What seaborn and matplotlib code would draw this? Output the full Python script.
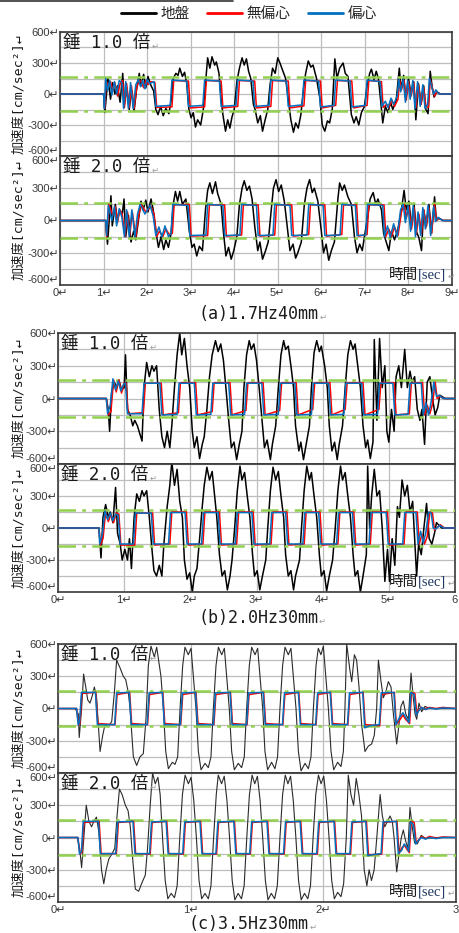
"""
Shaking-table response: ground vs. non-eccentric / eccentric weight
Three test cases (a)(b)(c), each with weight ratio 1.0 and 2.0
"""

import matplotlib
matplotlib.use("Agg")
import matplotlib.pyplot as plt
import seaborn as sns

# ---------------------------------------------------------------- data
# every series is a list of (time [sec], acceleration [cm/sec^2])

# (a) 1.7Hz 40mm, weight x1.0
a1_ground = [(0, 0), (1.00, 0), (1.03, -180), (1.10, 150), (1.16, -50), (1.21, 110), (1.26, 0), (1.32, 80),
             (1.38, -80), (1.44, 200), (1.48, -100), (1.53, 60), (1.59, -150), (1.64, 40), (1.70, -170),
             (1.76, 50), (1.82, 200), (1.86, 80), (1.92, 190), (1.97, 60), (2.02, 170), (2.08, 90), (2.15, 30),
             (2.20, -150), (2.25, -200), (2.31, -120), (2.37, -210), (2.43, -140), (2.50, -190), (2.56, -40),
             (2.60, 150), (2.66, 200), (2.71, 180), (2.75, 250), (2.81, 170), (2.86, 210), (2.91, 100),
             (2.96, -150), (3.01, -230), (3.06, -180), (3.11, -320), (3.16, -250), (3.23, -300), (3.29, -150),
             (3.34, 100), (3.39, 350), (3.44, 250), (3.49, 360), (3.55, 280), (3.59, 310), (3.65, 200),
             (3.70, -50), (3.74, -200), (3.80, -360), (3.85, -250), (3.90, -330), (3.95, -220), (4.00, -150),
             (4.06, 120), (4.12, 250), (4.18, 350), (4.23, 280), (4.28, 340), (4.33, 220), (4.38, 150),
             (4.44, -100), (4.48, -150), (4.54, -280), (4.60, -210), (4.65, -360), (4.71, -250), (4.77, -150),
             (4.82, 80), (4.88, 250), (4.94, 200), (5.00, 350), (5.05, 300), (5.11, 230), (5.18, 150),
             (5.24, -50), (5.30, -250), (5.36, -370), (5.41, -280), (5.47, -330), (5.53, -200), (5.59, 50),
             (5.64, 200), (5.70, 320), (5.76, 260), (5.81, 280), (5.89, 150), (5.97, -50), (6.02, -300),
             (6.08, -360), (6.14, -260), (6.19, -280), (6.25, -150), (6.31, 340), (6.36, 150), (6.42, 250),
             (6.50, 300), (6.55, 200), (6.61, 170), (6.69, -200), (6.75, -280), (6.80, -220), (6.86, -300),
             (6.92, -180), (6.99, -120), (7.05, 80), (7.11, 200), (7.15, 240), (7.21, 140), (7.26, 220),
             (7.31, 150), (7.37, -100), (7.41, -280), (7.47, -120), (7.53, -180), (7.59, -80), (7.64, -150),
             (7.72, -60), (7.79, 250), (7.83, 50), (7.89, 180), (7.94, -50), (8.00, 150), (8.06, 0),
             (8.12, 120), (8.17, -250), (8.23, 100), (8.29, -100), (8.35, 80), (8.40, -150), (8.45, -190),
             (8.50, 220), (8.55, 50), (8.59, -30), (8.65, 20), (8.74, 0), (9.0, 0)]
a1_red = [(0, 0), (1.00, 0), (1.03, -140), (1.06, 130), (1.10, 80), (1.16, 120), (1.21, 40), (1.26, 110),
          (1.32, -20), (1.38, 100), (1.44, 130), (1.48, -130), (1.53, 100), (1.59, -130), (1.64, 80),
          (1.70, -140), (1.76, 60), (1.82, 130), (1.86, 120), (1.92, 60), (1.97, 130), (2.02, 90), (2.08, 120),
          (2.18, 110), (2.22, -130), (2.57, -125), (2.61, 130), (2.95, 125), (2.99, -135), (3.32, -125),
          (3.36, 130), (3.70, 125), (3.74, -135), (4.08, -120), (4.12, 130), (4.47, 125), (4.51, -135),
          (4.84, -120), (4.88, 130), (5.24, 125), (5.28, -135), (5.60, -115), (5.64, 130), (5.98, 125),
          (6.02, -135), (6.33, -110), (6.37, 130), (6.70, 125), (6.74, -135), (7.05, -110), (7.09, 130),
          (7.38, 120), (7.42, -130), (7.50, -100), (7.55, -130), (7.62, -60), (7.68, -120), (7.76, -50),
          (7.80, 130), (7.84, 40), (7.90, 130), (7.95, -60), (8.00, 120), (8.06, -20), (8.12, 110),
          (8.17, -130), (8.23, 90), (8.29, -100), (8.35, 60), (8.40, -120), (8.46, -130), (8.50, 140),
          (8.55, 60), (8.60, -20), (8.65, 20), (8.72, 0), (9.0, 0)]
a1_blue = [(0, 0), (1.00, 0), (1.02, -140), (1.05, 150), (1.09, 30), (1.14, 130), (1.19, -10), (1.25, 120),
           (1.30, 0), (1.36, 130), (1.42, 110), (1.46, -140), (1.51, 120), (1.57, -140), (1.62, 110),
           (1.68, -140), (1.74, 90), (1.80, 140), (1.85, 70), (1.90, 130), (1.95, 50), (2.00, 140), (2.06, 100),
           (2.16, 120), (2.20, -120), (2.53, -110), (2.57, 135), (2.91, 125), (2.95, -120), (3.28, -110),
           (3.32, 135), (3.66, 125), (3.70, -120), (4.04, -110), (4.08, 135), (4.43, 125), (4.47, -120),
           (4.80, -110), (4.84, 135), (5.20, 125), (5.24, -120), (5.56, -105), (5.60, 135), (5.94, 125),
           (5.98, -125), (6.29, -110), (6.33, 135), (6.66, 125), (6.70, -125), (7.01, -110), (7.05, 135),
           (7.35, 120), (7.39, -120), (7.47, -70), (7.53, -130), (7.60, -40), (7.66, -100), (7.74, -20),
           (7.78, 140), (7.82, 20), (7.88, 140), (7.93, -80), (7.98, 130), (8.04, -50), (8.10, 130),
           (8.15, -140), (8.21, 120), (8.27, -120), (8.33, 90), (8.38, -140), (8.44, -100), (8.48, 150),
           (8.53, 80), (8.58, 0), (8.63, 40), (8.70, 0), (9.0, 0)]

# (a) 1.7Hz 40mm, weight x2.0
a2_ground = [(0, 0), (1.05, 0), (1.09, -220), (1.17, 230), (1.20, -50), (1.27, 150), (1.32, 0), (1.37, 100),
             (1.43, 60), (1.47, 200), (1.51, -150), (1.57, 50), (1.63, -200), (1.69, -100), (1.74, -180),
             (1.80, 0), (1.86, 180), (1.91, 100), (1.97, 190), (2.02, 80), (2.09, 200), (2.14, 100), (2.20, -100),
             (2.26, -250), (2.32, -150), (2.38, -270), (2.43, -180), (2.49, -250), (2.55, -120), (2.60, 150),
             (2.65, 270), (2.70, 180), (2.75, 270), (2.81, 150), (2.89, 200), (2.97, -100), (3.03, -250),
             (3.08, -220), (3.14, -330), (3.20, -240), (3.27, -280), (3.34, 100), (3.39, 280), (3.44, 350),
             (3.50, 250), (3.57, 360), (3.62, 250), (3.70, 150), (3.75, -100), (3.81, -330), (3.87, -250),
             (3.93, -360), (3.99, -280), (4.06, -150), (4.12, 150), (4.18, 300), (4.23, 370), (4.29, 280),
             (4.35, 320), (4.41, 200), (4.47, -50), (4.54, -280), (4.59, -200), (4.65, -360), (4.72, -280),
             (4.78, -200), (4.85, 100), (4.90, 300), (4.96, 380), (5.02, 270), (5.08, 330), (5.15, 180),
             (5.23, -100), (5.28, -280), (5.35, -220), (5.41, -350), (5.46, -300), (5.54, -200), (5.61, 150),
             (5.67, 300), (5.73, 380), (5.79, 260), (5.84, 300), (5.92, 180), (6.00, -100), (6.05, -300),
             (6.11, -220), (6.17, -370), (6.23, -280), (6.30, -200), (6.38, 200), (6.42, 350), (6.48, 280),
             (6.53, 330), (6.61, 220), (6.69, 150), (6.76, -150), (6.82, -300), (6.88, -220), (6.94, -280),
             (6.99, -150), (7.07, 50), (7.12, 200), (7.19, 260), (7.25, 150), (7.30, 200), (7.38, 100),
             (7.43, -120), (7.49, -200), (7.55, -280), (7.61, -100), (7.68, -180), (7.76, -80), (7.84, 100),
             (7.90, 280), (7.95, 100), (8.01, 180), (8.07, -50), (8.13, 150), (8.18, -100), (8.24, -160),
             (8.30, -280), (8.35, 100), (8.41, -50), (8.47, 150), (8.53, -120), (8.60, 220), (8.64, 0),
             (8.70, 20), (8.80, 0), (9.0, 0)]
a2_red = [(0, 0), (1.05, 0), (1.07, -150), (1.12, 150), (1.21, 50), (1.27, 130), (1.32, -20), (1.37, 100),
          (1.43, 60), (1.49, -150), (1.55, 80), (1.60, -150), (1.66, 80), (1.74, -150), (1.80, 30), (1.86, 150),
          (1.97, 80), (2.09, 130), (2.16, 60), (2.22, -150), (2.28, -100), (2.36, -150), (2.43, -80),
          (2.51, -130), (2.58, -120), (2.62, 145), (2.97, 150), (3.01, -145), (3.39, -140), (3.43, 145),
          (3.78, 145), (3.82, -145), (4.17, -135), (4.21, 145), (4.55, 145), (4.59, -145), (4.93, -135),
          (4.97, 145), (5.32, 145), (5.36, -145), (5.71, -130), (5.75, 145), (6.08, 145), (6.12, -145),
          (6.47, -130), (6.51, 145), (6.81, 145), (6.85, -145), (7.05, -130), (7.09, 145), (7.44, 145),
          (7.48, -150), (7.55, -80), (7.61, -150), (7.68, -60), (7.76, -140), (7.84, 80), (7.90, 150),
          (7.95, 20), (8.01, 130), (8.07, -80), (8.13, 120), (8.18, -130), (8.24, 60), (8.30, -120),
          (8.35, 100), (8.41, -60), (8.47, 120), (8.53, -120), (8.60, 150), (8.64, 0), (8.70, 20), (8.80, 0),
          (9.0, 0)]
a2_blue = [(0, 0), (1.05, 0), (1.07, -140), (1.11, 140), (1.19, 0), (1.25, 130), (1.30, -50), (1.36, 110),
           (1.42, 30), (1.48, -150), (1.53, 100), (1.59, -150), (1.65, 100), (1.72, -150), (1.78, 60),
           (1.84, 150), (1.95, 60), (2.07, 140), (2.14, 40), (2.20, -140), (2.27, -60), (2.34, -150),
           (2.41, -50), (2.49, -150), (2.55, -120), (2.59, 150), (2.94, 140), (2.98, -140), (3.35, -135),
           (3.39, 150), (3.74, 140), (3.78, -140), (4.13, -135), (4.17, 150), (4.51, 140), (4.55, -140),
           (4.89, -135), (4.93, 150), (5.28, 140), (5.32, -140), (5.67, -135), (5.71, 150), (6.04, 140),
           (6.08, -140), (6.43, -135), (6.47, 150), (6.78, 140), (6.82, -140), (7.02, -135), (7.06, 150),
           (7.41, 140), (7.45, -150), (7.52, -50), (7.58, -160), (7.66, -30), (7.74, -150), (7.82, 100),
           (7.88, 150), (7.93, -20), (7.99, 140), (8.05, -100), (8.11, 140), (8.16, -150), (8.22, 80),
           (8.28, -140), (8.33, 120), (8.39, -80), (8.45, 140), (8.51, -140), (8.58, 130), (8.62, -10),
           (8.68, 30), (8.78, 0), (9.0, 0)]

# (b) 2.0Hz 30mm, weight x1.0
b1_ground = [(0, 0), (0.73, 0), (0.76, -100), (0.78, -300), (0.81, 50), (0.85, 150), (0.89, 100), (0.92, 170),
             (0.96, 80), (1.00, 100), (1.02, 400), (1.05, -100), (1.09, -150), (1.13, -250), (1.16, -200),
             (1.20, -250), (1.27, -390), (1.30, 100), (1.34, 330), (1.38, 200), (1.42, 300), (1.45, 250),
             (1.49, 300), (1.53, -100), (1.57, -350), (1.61, -450), (1.65, -300), (1.69, -450), (1.72, -250),
             (1.76, 100), (1.80, 400), (1.84, 600), (1.87, 400), (1.91, 550), (1.95, 300), (1.99, 100),
             (2.03, -300), (2.06, -450), (2.10, -350), (2.14, -550), (2.18, -420), (2.21, -350), (2.25, -100),
             (2.29, 200), (2.33, 400), (2.38, 530), (2.42, 430), (2.46, 500), (2.50, 350), (2.53, 150),
             (2.58, -200), (2.62, -450), (2.66, -400), (2.70, -560), (2.74, -420), (2.78, -300), (2.81, 100),
             (2.85, 400), (2.89, 530), (2.92, 450), (2.96, 500), (3.00, 350), (3.04, 100), (3.09, -250),
             (3.12, -450), (3.16, -380), (3.21, -560), (3.24, -420), (3.29, -250), (3.33, 100), (3.37, 400),
             (3.41, 530), (3.44, 450), (3.48, 480), (3.52, 300), (3.56, 100), (3.59, -250), (3.64, -480),
             (3.67, -400), (3.71, -560), (3.75, -420), (3.80, -250), (3.83, 100), (3.87, 420), (3.91, 530),
             (3.95, 430), (3.98, 480), (4.03, 300), (4.07, 100), (4.10, -250), (4.14, -480), (4.18, -400),
             (4.22, -560), (4.25, -420), (4.30, -250), (4.34, 100), (4.38, 400), (4.42, 530), (4.46, 450),
             (4.49, 500), (4.53, 300), (4.57, 100), (4.61, -250), (4.65, -450), (4.68, -380), (4.72, -550),
             (4.76, -400), (4.78, 540), (4.82, -200), (4.86, 550), (4.90, 100), (4.94, 300), (4.97, -300),
             (5.00, -400), (5.04, -100), (5.08, -300), (5.11, 200), (5.15, 300), (5.19, 100), (5.24, 450),
             (5.28, 100), (5.32, 250), (5.35, 150), (5.39, 200), (5.43, -100), (5.47, -200), (5.50, -100),
             (5.54, -420), (5.58, 150), (5.62, 200), (5.66, 0), (5.70, -150), (5.74, -80), (5.77, 30),
             (5.85, 0), (6.0, 0)]
b1_red = [(0, 0), (0.73, 0), (0.76, -150), (0.80, -120), (0.84, 170), (0.88, 60), (0.92, 170), (0.96, 50),
          (1.00, 140), (1.03, 140), (1.06, -140), (1.29, -130), (1.32, 140), (1.56, 140), (1.59, -150),
          (1.82, -130), (1.85, 145), (2.08, 145), (2.11, -150), (2.33, -120), (2.36, 145), (2.60, 145),
          (2.63, -150), (2.84, -110), (2.87, 145), (3.10, 145), (3.13, -150), (3.35, -110), (3.38, 145),
          (3.60, 145), (3.63, -150), (3.85, -100), (3.88, 145), (4.11, 145), (4.14, -150), (4.34, -100),
          (4.37, 145), (4.61, 145), (4.64, -150), (4.85, -100), (4.88, 145), (5.08, 145), (5.11, -150),
          (5.31, -140), (5.34, 145), (5.51, 145), (5.54, -150), (5.58, -60), (5.62, -140), (5.66, -50),
          (5.70, 150), (5.73, 0), (5.77, 20), (5.83, 0), (6.0, 0)]
b1_blue = [(0, 0), (0.73, 0), (0.75, -140), (0.79, -60), (0.83, 180), (0.87, 80), (0.91, 160), (0.95, 70),
           (0.99, 130), (1.02, 140), (1.05, -140), (1.27, -140), (1.30, 140), (1.54, 140), (1.57, -150),
           (1.80, -145), (1.83, 140), (2.06, 140), (2.09, -150), (2.31, -145), (2.34, 140), (2.58, 140),
           (2.61, -150), (2.82, -145), (2.85, 140), (3.08, 140), (3.11, -150), (3.33, -145), (3.36, 140),
           (3.58, 140), (3.61, -150), (3.83, -145), (3.86, 140), (4.09, 140), (4.12, -150), (4.32, -145),
           (4.35, 140), (4.59, 140), (4.62, -150), (4.83, -145), (4.86, 140), (5.06, 140), (5.09, -150),
           (5.29, -145), (5.32, 140), (5.49, 140), (5.52, -150), (5.56, -40), (5.60, -150), (5.64, -30),
           (5.68, 150), (5.72, 20), (5.76, 30), (5.82, 0), (6.0, 0)]

# (b) 2.0Hz 30mm, weight x2.0
b2_ground = [(0, 0), (0.62, 0), (0.63, -100), (0.65, -280), (0.68, 100), (0.72, 220), (0.76, 100), (0.79, 150),
             (0.83, 50), (0.87, 380), (0.90, -50), (0.94, -150), (0.97, -300), (1.01, -200), (1.05, -300),
             (1.08, -100), (1.11, -380), (1.15, 100), (1.19, 320), (1.23, 250), (1.27, 350), (1.30, 300),
             (1.34, 350), (1.38, 100), (1.42, -200), (1.45, -400), (1.49, -450), (1.53, -350), (1.57, -450),
             (1.60, -150), (1.65, 200), (1.69, 400), (1.72, 620), (1.76, 400), (1.80, 550), (1.84, 250),
             (1.88, 100), (1.91, -300), (1.95, -480), (1.99, -420), (2.03, -600), (2.06, -450), (2.10, -380),
             (2.14, -100), (2.18, 200), (2.21, 400), (2.25, 570), (2.29, 450), (2.33, 530), (2.36, 350),
             (2.40, 100), (2.44, -250), (2.48, -450), (2.52, -400), (2.56, -580), (2.60, -450), (2.63, -300),
             (2.67, 0), (2.71, 350), (2.75, 580), (2.78, 450), (2.82, 520), (2.86, 300), (2.90, 100),
             (2.94, -250), (2.97, -450), (3.01, -400), (3.05, -580), (3.09, -450), (3.14, -300), (3.17, 0),
             (3.21, 350), (3.25, 570), (3.29, 450), (3.33, 530), (3.37, 300), (3.41, 100), (3.44, -250),
             (3.48, -450), (3.52, -400), (3.56, -580), (3.59, -450), (3.65, -300), (3.68, 0), (3.72, 350),
             (3.76, 580), (3.80, 450), (3.83, 520), (3.87, 300), (3.91, 100), (3.95, -250), (3.98, -450),
             (4.02, -400), (4.06, -590), (4.10, -450), (4.15, -300), (4.19, 0), (4.23, 350), (4.27, 580),
             (4.30, 450), (4.34, 520), (4.38, 300), (4.42, 100), (4.46, -250), (4.49, -450), (4.53, -400),
             (4.57, -600), (4.61, -450), (4.66, -250), (4.68, 580), (4.71, 0), (4.74, 300), (4.78, 550),
             (4.82, 300), (4.86, 350), (4.90, 0), (4.94, -500), (4.98, -200), (5.01, -500), (5.05, -100),
             (5.09, -350), (5.13, 200), (5.16, 100), (5.20, 450), (5.24, 300), (5.28, 400), (5.32, 150),
             (5.36, 250), (5.39, -100), (5.42, -450), (5.45, -150), (5.49, -250), (5.53, 0), (5.57, 230),
             (5.61, -100), (5.65, -150), (5.69, -50), (5.72, 50), (5.80, 0), (6.0, 0)]
b2_red = [(0, 0), (0.62, 0), (0.64, -160), (0.68, -100), (0.72, 150), (0.76, 60), (0.80, 130), (0.84, 50),
          (0.88, 140), (0.92, 130), (0.95, -160), (1.16, -160), (1.19, 140), (1.43, 140), (1.46, -160),
          (1.69, -150), (1.72, 150), (1.94, 150), (1.97, -160), (2.19, -150), (2.22, 150), (2.44, 150),
          (2.47, -160), (2.70, -150), (2.73, 150), (2.95, 150), (2.98, -160), (3.22, -150), (3.25, 150),
          (3.46, 150), (3.49, -160), (3.72, -150), (3.75, 150), (3.96, 150), (3.99, -160), (4.23, -150),
          (4.26, 150), (4.47, 150), (4.50, -160), (4.72, -150), (4.75, 150), (4.98, 150), (5.01, -160),
          (5.23, -150), (5.26, 150), (5.43, 150), (5.46, -150), (5.50, -60), (5.54, -150), (5.58, -80),
          (5.62, 150), (5.66, 140), (5.69, -20), (5.72, 0), (5.78, 30), (5.84, 0), (6.0, 0)]
b2_blue = [(0, 0), (0.62, 0), (0.63, -150), (0.67, -60), (0.71, 160), (0.75, 80), (0.79, 140), (0.83, 70),
           (0.87, 130), (0.91, 120), (0.94, -150), (1.14, -150), (1.17, 140), (1.41, 140), (1.44, -150),
           (1.67, -150), (1.70, 145), (1.92, 145), (1.95, -150), (2.17, -150), (2.20, 145), (2.42, 145),
           (2.45, -150), (2.68, -150), (2.71, 145), (2.93, 145), (2.96, -150), (3.20, -150), (3.23, 145),
           (3.44, 145), (3.47, -150), (3.70, -150), (3.73, 145), (3.94, 145), (3.97, -150), (4.21, -150),
           (4.24, 145), (4.45, 145), (4.48, -150), (4.70, -150), (4.73, 145), (4.96, 145), (4.99, -150),
           (5.21, -150), (5.24, 145), (5.41, 145), (5.44, -150), (5.48, -30), (5.52, -140), (5.56, -40),
           (5.60, 150), (5.64, 140), (5.67, 0), (5.71, -10), (5.77, 25), (5.83, 0), (6.0, 0)]

# (c) 3.5Hz 30mm, weight x1.0
c1_ground = [(0, 0), (0.128, 0), (0.153, -50), (0.160, -270), (0.178, 0), (0.193, 320), (0.209, 200),
             (0.224, 80), (0.241, 50), (0.259, 120), (0.274, 200), (0.291, 100), (0.317, -400), (0.337, -250),
             (0.354, -150), (0.380, -170), (0.405, -120), (0.425, 150), (0.442, 450), (0.467, 380),
             (0.492, 300), (0.510, 270), (0.530, 150), (0.543, 0), (0.568, -450), (0.593, -530), (0.618, -450),
             (0.643, -420), (0.663, -100), (0.681, 400), (0.701, 580), (0.726, 480), (0.744, 570), (0.776, 300),
             (0.794, 0), (0.812, -400), (0.832, -560), (0.862, -500), (0.882, -520), (0.902, -450), (0.920, 0),
             (0.940, 400), (0.957, 570), (0.982, 500), (1.003, 560), (1.020, 300), (1.040, 0), (1.058, -400),
             (1.078, -570), (1.108, -510), (1.133, -550), (1.153, -450), (1.171, 0), (1.191, 400), (1.209, 570),
             (1.234, 500), (1.254, 560), (1.271, 300), (1.291, 0), (1.309, -400), (1.329, -570), (1.359, -510),
             (1.384, -550), (1.404, -450), (1.422, 0), (1.442, 400), (1.460, 570), (1.485, 500), (1.505, 560),
             (1.523, 300), (1.543, 0), (1.560, -400), (1.580, -570), (1.610, -500), (1.635, -560),
             (1.655, -450), (1.673, 0), (1.693, 400), (1.711, 570), (1.736, 500), (1.756, 560), (1.774, 300),
             (1.794, 0), (1.812, -400), (1.832, -580), (1.862, -510), (1.887, -560), (1.907, -450), (1.925, 0),
             (1.945, 400), (1.962, 560), (1.982, 500), (2.000, 580), (2.018, 300), (2.038, 0), (2.058, -400),
             (2.078, -570), (2.108, -500), (2.133, -540), (2.151, -400), (2.163, 0), (2.176, 600), (2.201, 350),
             (2.214, 250), (2.234, 500), (2.251, 450), (2.269, 200), (2.289, -150), (2.314, -400),
             (2.339, -350), (2.364, -330), (2.384, -250), (2.402, 0), (2.415, 450), (2.435, 250), (2.452, 100),
             (2.470, 150), (2.490, 250), (2.510, 200), (2.528, -50), (2.553, -330), (2.570, -150), (2.585, 20),
             (2.603, 70), (2.621, -50), (2.641, -100), (2.661, 330), (2.678, 100), (2.691, -50), (2.704, -100),
             (2.721, 50), (2.741, -30), (2.766, 20), (2.804, 0), (3.0, 0)]
c1_red = [(0, 0), (0.14, 0), (0.155, -150), (0.165, -140), (0.18, 140), (0.285, 150), (0.30, -140), (0.43, -150),
          (0.445, 130), (0.54, 150), (0.555, -140), (0.675, -150), (0.69, 130), (0.79, 150), (0.805, -140),
          (0.925, -150), (0.94, 130), (1.04, 150), (1.055, -140), (1.175, -150), (1.19, 130), (1.30, 150),
          (1.315, -140), (1.425, -150), (1.44, 130), (1.55, 150), (1.565, -140), (1.695, -150), (1.71, 130),
          (1.815, 150), (1.83, -140), (1.945, -150), (1.96, 130), (2.055, 150), (2.07, -140), (2.185, -150),
          (2.20, 130), (2.30, 150), (2.315, -150), (2.425, -160), (2.44, 130), (2.535, 150), (2.55, -150),
          (2.58, -100), (2.60, -60), (2.62, -100), (2.65, -140), (2.665, 150), (2.69, 140), (2.705, -50),
          (2.72, -10), (2.74, 10), (2.76, -5), (2.80, 10), (2.85, 0), (2.90, 10), (3.0, 0)]
c1_blue = [(0, 0), (0.14, 0), (0.152, -150), (0.162, -130), (0.177, 150), (0.282, 150), (0.297, -150),
           (0.427, -150), (0.442, 145), (0.537, 150), (0.552, -150), (0.672, -150), (0.687, 145), (0.787, 150),
           (0.802, -150), (0.922, -150), (0.937, 145), (1.037, 150), (1.052, -150), (1.172, -150), (1.187, 145),
           (1.297, 150), (1.312, -150), (1.422, -150), (1.437, 145), (1.547, 150), (1.562, -150), (1.692, -150),
           (1.707, 145), (1.812, 150), (1.827, -150), (1.942, -150), (1.957, 145), (2.052, 150), (2.067, -150),
           (2.182, -150), (2.197, 145), (2.297, 150), (2.312, -180), (2.35, -160), (2.422, -150), (2.437, 145),
           (2.532, 150), (2.547, -150), (2.575, -80), (2.60, -40), (2.625, -90), (2.645, -130), (2.66, 150),
           (2.685, 130), (2.70, -60), (2.72, -20), (2.74, 10), (2.77, -10), (2.80, 5), (2.85, -5), (2.90, 5),
           (3.0, 0)]

# (c) 3.5Hz 30mm, weight x2.0
c2_ground = [(0, 0), (0.145, 0), (0.163, -100), (0.178, -280), (0.195, 0), (0.213, 300), (0.233, 150),
             (0.253, 100), (0.270, 150), (0.290, 190), (0.308, 50), (0.328, -300), (0.345, -430), (0.363, -300),
             (0.383, -200), (0.408, -150), (0.428, -100), (0.445, 200), (0.463, 450), (0.483, 400), (0.508, 300),
             (0.528, 250), (0.545, 100), (0.563, -200), (0.583, -480), (0.608, -500), (0.633, -420),
             (0.658, -350), (0.675, -100), (0.695, 300), (0.713, 600), (0.733, 500), (0.753, 560), (0.770, 400),
             (0.788, 0), (0.808, -400), (0.828, -570), (0.853, -520), (0.878, -560), (0.898, -450), (0.918, 0),
             (0.938, 400), (0.958, 580), (0.983, 500), (1.003, 560), (1.023, 350), (1.043, 0), (1.063, -400),
             (1.083, -570), (1.108, -520), (1.133, -570), (1.153, -450), (1.173, 0), (1.193, 400), (1.208, 580),
             (1.233, 500), (1.253, 570), (1.273, 350), (1.293, 0), (1.313, -400), (1.333, -580), (1.358, -520),
             (1.383, -570), (1.403, -450), (1.423, 0), (1.443, 400), (1.463, 580), (1.483, 500), (1.503, 570),
             (1.523, 350), (1.543, 0), (1.563, -400), (1.583, -580), (1.608, -520), (1.633, -570),
             (1.653, -450), (1.673, 0), (1.693, 400), (1.713, 580), (1.733, 500), (1.753, 570), (1.773, 350),
             (1.793, 0), (1.813, -400), (1.833, -580), (1.858, -520), (1.883, -570), (1.903, -450), (1.923, 0),
             (1.943, 400), (1.963, 580), (1.983, 500), (2.003, 570), (2.023, 350), (2.043, 0), (2.063, -400),
             (2.083, -570), (2.108, -510), (2.133, -550), (2.153, -430), (2.173, 0), (2.188, 580), (2.208, 400),
             (2.228, 300), (2.248, 550), (2.268, 400), (2.288, 200), (2.308, -300), (2.328, -450), (2.345, -300),
             (2.363, -400), (2.383, -300), (2.403, 0), (2.428, 400), (2.445, 200), (2.463, 100), (2.483, 150),
             (2.503, 200), (2.520, 150), (2.533, 0), (2.553, -320), (2.570, -150), (2.588, 0), (2.603, 70),
             (2.620, -30), (2.638, -100), (2.653, 280), (2.670, 100), (2.688, -50), (2.708, -60), (2.738, 20),
             (2.770, -10), (2.833, 0), (3.0, 0)]
c2_red = [(0, 0), (0.15, 0), (0.165, -150), (0.18, -140), (0.195, 140), (0.31, 150), (0.325, -150), (0.44, -150),
          (0.455, 140), (0.57, 150), (0.585, -150), (0.695, -155), (0.71, 140), (0.82, 150), (0.835, -150),
          (0.945, -155), (0.96, 140), (1.075, 150), (1.09, -150), (1.195, -155), (1.21, 140), (1.33, 150),
          (1.345, -150), (1.45, -155), (1.465, 140), (1.58, 150), (1.595, -150), (1.705, -155), (1.72, 140),
          (1.83, 150), (1.845, -150), (1.955, -155), (1.97, 140), (2.085, 150), (2.10, -150), (2.205, -155),
          (2.22, 140), (2.325, 150), (2.34, -160), (2.44, -155), (2.455, 140), (2.555, 150), (2.57, -150),
          (2.59, -100), (2.61, -70), (2.63, -110), (2.648, -140), (2.663, 150), (2.685, 140), (2.70, -50),
          (2.72, -20), (2.74, 10), (2.77, -10), (2.80, 10), (2.85, -5), (2.90, 5), (3.0, 0)]
c2_blue = [(0, 0), (0.15, 0), (0.162, -150), (0.177, -130), (0.19, 150), (0.305, 150), (0.32, -150),
           (0.435, -150), (0.45, 145), (0.565, 150), (0.58, -150), (0.69, -150), (0.705, 145), (0.815, 150),
           (0.83, -150), (0.94, -150), (0.955, 145), (1.07, 150), (1.085, -150), (1.19, -150), (1.205, 145),
           (1.325, 150), (1.34, -150), (1.445, -150), (1.46, 145), (1.575, 150), (1.59, -150), (1.70, -150),
           (1.715, 145), (1.825, 150), (1.84, -150), (1.95, -150), (1.965, 145), (2.08, 150), (2.095, -150),
           (2.20, -150), (2.215, 145), (2.32, 150), (2.335, -170), (2.37, -160), (2.435, -150), (2.45, 145),
           (2.55, 150), (2.565, -150), (2.59, -120), (2.61, -60), (2.63, -90), (2.643, -130), (2.658, 145),
           (2.68, 120), (2.695, -60), (2.715, -30), (2.74, 0), (2.77, -15), (2.80, 0), (2.85, -10), (2.90, 0),
           (3.0, 0)]

legend_labels = ['地盤', '無偏心', '偏心']
mass_labels = ['錘 1.0 倍', '錘 2.0 倍']
captions = ['(a)1.7Hz40mm', '(b)2.0Hz30mm', '(c)3.5Hz30mm']
x_max = [9, 6, 3]
y_ticks = [-600, -300, 0, 300, 600]
green_limit = [160, 170, 160]

# ---------------------------------------------------------------- style
sns.set_style("whitegrid")
plt.rcParams['font.family'] = ['Noto Sans CJK JP', 'DejaVu Sans']

W, H = 459, 933
fig = plt.figure(figsize=(W / 100, H / 100), dpi=100)

GROUND = '#000000'
RED = '#ff0000'
BLUE = '#0070c0'
GREEN = '#92d050'
RET = '#9a9a9a'
MONO_JP = ['DejaVu Sans Mono', 'Noto Sans CJK JP']
TICK_FONT = ['Liberation Sans', 'DejaVu Sans']


def px_axes(left, top, right, bottom):
    return fig.add_axes([left / W, 1 - bottom / H, (right - left) / W, (bottom - top) / H])


def draw_panel(ax, ground, red, blue, xmax, label, glim, bottom=False, thin=False):
    layers = [(ground, '#2b2b2b' if thin else GROUND, 0.8 if thin else 1.1, 2),
              (red, RED, 1.1, 4),
              (blue, BLUE, 1.1, 5)]
    for series, color, lw, z in layers:
        t = [p[0] for p in series]
        v = [p[1] for p in series]
        sns.lineplot(x=t, y=v, ax=ax, color=color, linewidth=lw, estimator=None,
                     sort=False, legend=False, zorder=z)
    for lvl in (glim, -glim):
        ax.axhline(lvl, color=GREEN, lw=1.8, ls=(0, (7, 2.5, 1.5, 2.5)), zorder=3)

    ax.set_xlim(0, xmax)
    ax.set_ylim(-600, 600)
    ax.set_xticks(range(0, xmax + 1))
    ax.set_yticks(y_ticks)
    ax.set_yticks([-450, -150, 150, 450], minor=True)
    ax.set_yticklabels([f'{v}↵' for v in y_ticks], family=TICK_FONT)
    xl = [f'{v}↵' for v in range(0, xmax + 1)]
    if xmax < 9:
        xl[-1] = str(xmax)
    ax.set_xticklabels(xl, family=TICK_FONT)
    ax.grid(True, which='both', color='#bdbdbd', lw=0.9)
    ax.set_axisbelow(True)
    ax.tick_params(axis='both', which='both', length=0, labelsize=8, labelcolor='#3a3a3a')
    ax.tick_params(axis='y', pad=0.5)
    ax.tick_params(axis='x', pad=2, labelbottom=bottom)
    ax.set_xlabel('')
    ax.set_ylabel('')
    # -600 sits just above the bottom frame, 600 of a lower panel just below its top
    yt = ax.yaxis.get_major_ticks()
    yt[0].label1.set_va('bottom')
    if bottom:
        yt[-1].label1.set_va('top')
    for sp in ax.spines.values():
        sp.set_color('#3a3a3a')
        sp.set_linewidth(1.2)
    txt = ax.text(0.008, 0.985, label, transform=ax.transAxes, ha='left', va='top',
                  fontsize=12.5, family=MONO_JP, color='#1a1a1a', zorder=10)
    return txt


# pixel boxes: left, top, right, bottom
boxes = [[(60, 32, 452, 156), (60, 156, 452, 285)],
         [(58, 333, 455, 464), (58, 464, 455, 592)],
         [(58, 644, 456, 773), (58, 773, 456, 902)]]
series = [[(a1_ground, a1_red, a1_blue), (a2_ground, a2_red, a2_blue)],
          [(b1_ground, b1_red, b1_blue), (b2_ground, b2_red, b2_blue)],
          [(c1_ground, c1_red, c1_blue), (c2_ground, c2_red, c2_blue)]]
caption_xy = [(259, 314), (258, 618), (249, 924)]

marked = []
for g in range(3):
    for k in range(2):
        box = boxes[g][k]
        ax = px_axes(*box)
        gnd, red, blue = series[g][k]
        txt = draw_panel(ax, gnd, red, blue, x_max[g], mass_labels[k], green_limit[g],
                         bottom=(k == 1), thin=(g == 2))
        marked.append(txt)
        # y label
        fig.text(19 / W, 1 - (box[1] + box[3]) / 2 / H, '加速度[cm/sec²]↵', rotation=90,
                 ha='center', va='center', fontsize=9.5, family=MONO_JP, color='#1a1a1a')
        if k == 1:
            yb = box[3] - 10
            fig.text(418 / W, 1 - yb / H, '時間', ha='right', va='center', fontsize=10.5, color='#1a1a1a')
            t2 = fig.text(418 / W, 1 - yb / H, '[sec]', ha='left', va='center', fontsize=10.5,
                          family=['Liberation Serif'], color='#1f3864')
            marked.append(t2)
    cx, cy = caption_xy[g]
    cap = fig.text(cx / W, 1 - cy / H, captions[g], ha='center', va='center', fontsize=12,
                   family=['DejaVu Sans Mono'], color='#1a1a1a')
    marked.append(cap)

# legend at the top
leg_handles = [plt.Line2D([], [], color=c, lw=2) for c in (GROUND, RED, BLUE)]
fig.legend(leg_handles, legend_labels, loc='center', bbox_to_anchor=(249 / W, 1 - 14 / H), ncol=3,
           frameon=False, fontsize=10.5, handlelength=2.4, handletextpad=0.3, columnspacing=1.2,
           borderaxespad=0, borderpad=0)

# cut-off table border at the very top
fig.add_artist(plt.Line2D([0, 233 / W], [1 - 1 / H, 1 - 1 / H], color='#333333', lw=1.2))

# paragraph marks after texts
fig.canvas.draw()
renderer = fig.canvas.get_renderer()
for t in marked:
    bb = t.get_window_extent(renderer)
    fig.text((bb.x1 + 1) / W, (bb.y0 + 1) / H, '↵', fontsize=6, color=RET,
             family=['DejaVu Sans'], ha='left', va='bottom')

fig.savefig('out.png', dpi=100)
